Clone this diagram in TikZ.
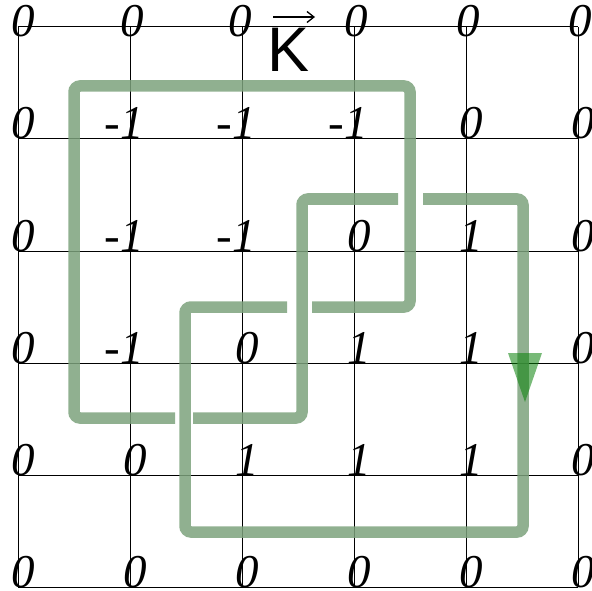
\documentclass[tikz,border=0pt]{standalone}
\usepackage{fontspec}
\setmainfont{Liberation Serif}
\newfontfamily\ksans{Liberation Sans}
\usetikzlibrary{arrows.meta}
\definecolor{knot}{RGB}{124,162,124}
\definecolor{tri}{RGB}{10,130,10}
\begin{document}
\begin{tikzpicture}[x=1pt,y=-1pt,
  gridline/.style={line width=1pt,black},
  knotline/.style={line width=11.5pt,knot,opacity=0.85,rounded corners=6pt,line cap=butt},
  val/.style={inner sep=0pt,anchor=base,font=\fontsize{47}{47}\selectfont\itshape},
  klabel/.style={inner sep=0pt,anchor=base,font=\ksans\fontsize{63}{63}\selectfont},
  karrow/.style={line width=1.3pt,-{Straight Barb[length=7pt,width=11pt]}},
  dirmark/.style={fill=tri,opacity=0.55}]
\useasboundingbox (0,0) rectangle (592,591);
% grid
\foreach \i in {0,...,5} {
  \draw[gridline] ({18+112*\i},27) -- ({18+112*\i},587);
  \draw[gridline] (18,{27+112*\i}) -- (578,{27+112*\i});
}
% knot strands
\draw[knotline] (312,307) -- (410,307) -- (410,86) -- (74,86) -- (74,418) -- (175,418);
\draw[knotline] (193,418) -- (302,418) -- (302,199) -- (398,199);
\draw[knotline] (423,199) -- (523,199) -- (523,532) -- (185,532) -- (185,307) -- (287,307);
% direction mark
\fill[dirmark] (508,353) -- (542,353) -- (525,402) -- cycle;
% top row values (set a little lower, crossed by the top line)
\foreach \v/\dx [count=\c from 0] in {0/5,0/2,0/-2,0/2,0/2,0/2} {
  \node[val] (v0\c) at ({18+112*\c+\dx},37) {\v};
}
% other values
\foreach \r/\row in {1/{0,-1,-1,-1,0,0},2/{0,-1,-1,0,1,0},3/{0,-1,0,1,1,0},4/{0,0,1,1,1,0},5/{0,0,0,0,0,0}} {
  \foreach \v [count=\c from 0] in \row {
    \pgfmathsetmacro\dx{\v<0 ? -6 : 5}
    \node[val] (v\r\c) at ({18+112*\c+\dx},{27+112*\r}) {\v};
  }
}
% K label
\node[klabel] (K) at (289,72) {K};
\coordinate (ka) at (273,17);
\coordinate (kb) at (315,17);
\draw[karrow] (ka) -- (kb);
\end{tikzpicture}
\end{document}
